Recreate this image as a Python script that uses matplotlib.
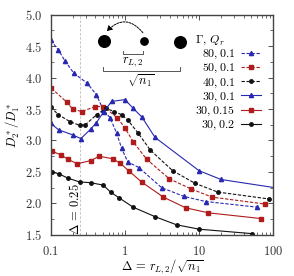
import numpy as np
import matplotlib
matplotlib.use('Agg')
import matplotlib.pyplot as plt
from matplotlib.patches import FancyArrowPatch
from matplotlib.ticker import FixedLocator, LogLocator, NullFormatter, MultipleLocator, FuncFormatter

plt.rcParams['mathtext.fontset'] = 'cm'
plt.rcParams['font.family'] = 'serif'
plt.rcParams['font.serif'] = ['DejaVu Serif']

# Gamma = 80, Qr = 0.1 (blue dashed)
d_80_01 = [0.1, 0.126, 0.156, 0.204, 0.31, 0.41, 0.51, 0.63, 0.77, 0.90, 1.09, 1.54, 3.13, 6.3, 12.3, 61]
v_80_01 = [4.59, 4.44, 4.26, 4.07, 3.91, 3.73, 3.49, 3.36, 3.12, 2.88, 2.66, 2.57, 2.25, 2.11, 2.03, 1.94]
# Gamma = 50, Qr = 0.1 (red dashed)
d_50_01 = [0.102, 0.163, 0.197, 0.26, 0.40, 0.51, 0.79, 1.0, 1.29, 1.97, 3.98, 7.8, 15.0, 78]
v_50_01 = [3.83, 3.61, 3.50, 3.46, 3.54, 3.54, 3.36, 3.20, 2.98, 2.70, 2.39, 2.23, 2.10, 1.99]
# Gamma = 40, Qr = 0.1 (black dashed)
d_40_01 = [0.1, 0.126, 0.181, 0.245, 0.292, 0.415, 0.55, 0.72, 0.90, 1.10, 1.50, 2.19, 4.4, 8.8, 17.9, 89]
v_40_01 = [3.53, 3.41, 3.30, 3.24, 3.25, 3.41, 3.51, 3.46, 3.41, 3.32, 3.12, 2.85, 2.52, 2.32, 2.18, 2.07]
# Gamma = 30, Qr = 0.1 (blue solid)
d_30_01 = [0.1, 0.127, 0.196, 0.254, 0.344, 0.41, 0.52, 0.66, 1.0, 1.27, 1.7, 2.54, 10.0, 19.8, 120]
v_30_01 = [3.27, 3.17, 3.09, 3.03, 3.18, 3.28, 3.46, 3.62, 3.65, 3.52, 3.37, 3.05, 2.52, 2.38, 2.24]
# Gamma = 30, Qr = 0.15 (red solid)
d_30_015 = [0.104, 0.137, 0.171, 0.227, 0.344, 0.45, 0.68, 0.86, 1.12, 1.68, 3.30, 6.6, 13.4, 68]
v_30_015 = [2.83, 2.77, 2.70, 2.63, 2.68, 2.75, 2.71, 2.64, 2.52, 2.34, 2.10, 1.93, 1.85, 1.76]
# Gamma = 30, Qr = 0.2 (black solid)
d_30_02 = [0.104, 0.128, 0.171, 0.246, 0.344, 0.509, 0.64, 0.83, 1.29, 2.54, 4.97, 10.1, 51.5]
v_30_02 = [2.50, 2.47, 2.40, 2.34, 2.33, 2.29, 2.18, 2.09, 1.94, 1.79, 1.66, 1.59, 1.52]

labels = ['$80, 0.1$', '$50, 0.1$', '$40, 0.1$', '$30, 0.1$', '$30, 0.15$', '$30, 0.2$']
xticks = [0.1, 1, 10, 100]
xticklabels = ['$0.1$', '$1$', '$10$', '$100$']

blue = '#2828b0'
red = '#b01c1c'
black = '#111111'
fs = 9

fig = plt.figure(figsize=(2.94, 2.76), dpi=100)
ax = fig.add_axes([0.173, 0.149, 0.756, 0.798])

series = [
    (d_80_01, v_80_01, blue, '--', '^', 3.0),
    (d_50_01, v_50_01, red, '--', 's', 2.5),
    (d_40_01, v_40_01, black, '--', 'o', 2.5),
    (d_30_01, v_30_01, blue, '-', '^', 3.0),
    (d_30_015, v_30_015, red, '-', 's', 2.5),
    (d_30_02, v_30_02, black, '-', 'o', 2.5),
]
for (d, v, c, ls, mk, ms), lab in zip(series, labels):
    ax.plot(d, v, color=c, ls=ls, marker=mk, ms=ms, lw=0.8, label=lab,
            dashes=(3, 1.5) if ls == '--' else (None, None))

ax.axvline(0.25, color='#bbbbbb', ls='--', lw=0.6, dashes=(3, 2), zorder=0)
ax.text(0.213, 0.115, r'$\Delta\,=\,0.25$', rotation=90, ha='center', va='center',
        fontsize=fs, transform=ax.get_xaxis_transform())

ax.set_xscale('log')
ax.set_xlim(0.1, 100)
ax.set_ylim(1.5, 5.0)
ax.xaxis.set_major_locator(FixedLocator(xticks))
ax.set_xticklabels(xticklabels)
ax.xaxis.set_minor_locator(LogLocator(base=10, subs=np.arange(2, 10)))
ax.xaxis.set_minor_formatter(NullFormatter())
ax.yaxis.set_major_locator(MultipleLocator(0.5))
ax.yaxis.set_minor_locator(MultipleLocator(0.25))
ax.yaxis.set_major_formatter(FuncFormatter(lambda v, p: '$%.1f$' % v))
ax.tick_params(which='both', direction='in', top=True, right=True, labelsize=fs, colors='#333333')
ax.tick_params(which='major', length=3.5, width=0.6, pad=6)
ax.tick_params(axis='x', which='major', pad=7)
ax.tick_params(which='minor', length=2, width=0.5)
for s in ax.spines.values():
    s.set_linewidth(1.0)
    s.set_color('#444444')

ax.set_xlabel(r'$\Delta\,=\,r_{L,2}/\sqrt{n_1}$', fontsize=fs, labelpad=0)
ax.set_ylabel(r'$D_2^*/D_1^*$', fontsize=fs, labelpad=2)

# schematic: two particles and gyration orbit
tr = ax.transAxes
ax.scatter([0.240, 0.581], [0.878, 0.875], s=70, color='black', transform=tr, zorder=5, clip_on=False)
ax.scatter([0.418], [0.878], s=28, color='black', transform=tr, zorder=5, clip_on=False)
arc = FancyArrowPatch((0.414, 0.918), (0.252, 0.925), transform=tr,
                      connectionstyle='arc3,rad=0.55', arrowstyle='-|>,head_length=3,head_width=1.8',
                      ls=(0, (2, 1.2)), lw=0.7, color='black', shrinkA=0, shrinkB=0)
ax.add_patch(arc)
gc = '#555555'
ax.plot([0.324, 0.324, 0.414, 0.414], [0.833, 0.822, 0.822, 0.833], color=gc, lw=0.7, transform=tr)
ax.text(0.369, 0.788, r'$r_{L,2}$', fontsize=fs, ha='center', va='center', transform=tr)
ax.plot([0.234, 0.234, 0.581, 0.581], [0.760, 0.746, 0.746, 0.760], color=gc, lw=0.7, transform=tr)
ax.text(0.405, 0.695, r'$\sqrt{n_1}$', fontsize=fs, ha='center', va='center', transform=tr)

leg = ax.legend(title=r'$\Gamma,\,Q_r$', loc='upper right', bbox_to_anchor=(0.985, 0.955),
                frameon=False, fontsize=8.6, title_fontsize=8.6, markerfirst=False,
                handlelength=1.7, handletextpad=0.5, labelspacing=0.0, borderpad=0.2)
leg._legend_box.align = 'left'

fig.savefig('out.png', dpi=100)
